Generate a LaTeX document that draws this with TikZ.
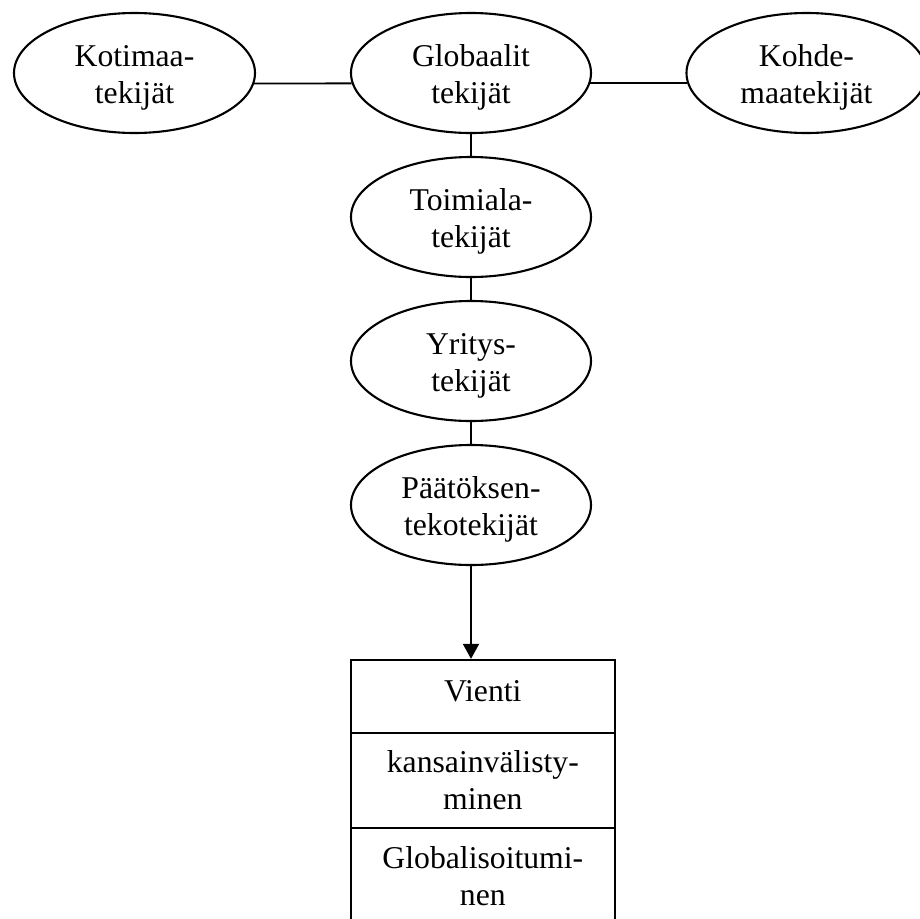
\documentclass[tikz,border=0pt]{standalone}
\usepackage{fontspec}
\setmainfont{Liberation Serif}
\usetikzlibrary{shapes.geometric,arrows.meta}
\tikzset{
  oval/.style={draw, ellipse, line width=2.1pt, minimum width=240pt, minimum height=120pt, inner sep=0pt},
  cell/.style={draw, rectangle, line width=2.3pt, minimum width=264.3pt, inner sep=0pt},
  lbl/.style={anchor=base, align=center, inner sep=0pt},
  conn/.style={line width=1.9pt},
}
\begin{document}
\begin{tikzpicture}[x=1pt,y=-1pt,font=\fontsize{31.7}{36.8}\selectfont]
\useasboundingbox (0,0) rectangle (919,919);
\node[oval, minimum width=241pt] (kot) at (134.5,73) {};
\node[oval] (glob) at (471,73) {};
\node[oval] (koh) at (806.5,73) {};
\node[oval] (toim) at (471,217) {};
\node[oval] (yrit) at (471,361) {};
\node[oval] (paat) at (471,505) {};
\node[cell, minimum height=72.7pt] (c1) at (482.85,696.35) {};
\node[cell, minimum height=95.3pt] (c2) at (482.85,780.35) {};
\node[cell, minimum height=95.3pt] (c3) at (482.85,875.65) {};
\node[lbl] (kott) at (134.5,103.5) {Kotimaa-\\tekijät};
\node[lbl] (globt) at (471,103.5) {Globaalit\\tekijät};
\node[lbl] (koht) at (806.5,103.5) {Kohde-\\maatekijät};
\node[lbl] (toimt) at (471,247.3) {Toimiala-\\tekijät};
\node[lbl] (yritt) at (471,391.5) {Yritys-\\tekijät};
\node[lbl] (paatt) at (471,535.2) {Päätöksen-\\tekotekijät};
\node[lbl] (c1t) at (482.85,701.7) {Vienti};
\node[lbl] (c2t) at (482.85,809.2) {kansainvälisty-\\minen};
\node[lbl] (c3t) at (482.85,905.1) {Globalisoitumi-\\nen};
\draw[conn] (kot.-5.8) -- (glob.185.8);
\draw[conn] (glob.-5.8) -- (koh.185.8);
\draw[conn] (glob.south) -- (toim.north);
\draw[conn] (toim.south) -- (yrit.north);
\draw[conn] (yrit.south) -- (paat.north);
\draw[conn, -{Triangle[width=16pt,length=15pt]}] (paat.south) -- (paat.south |- c1.north);
\end{tikzpicture}
\end{document}
